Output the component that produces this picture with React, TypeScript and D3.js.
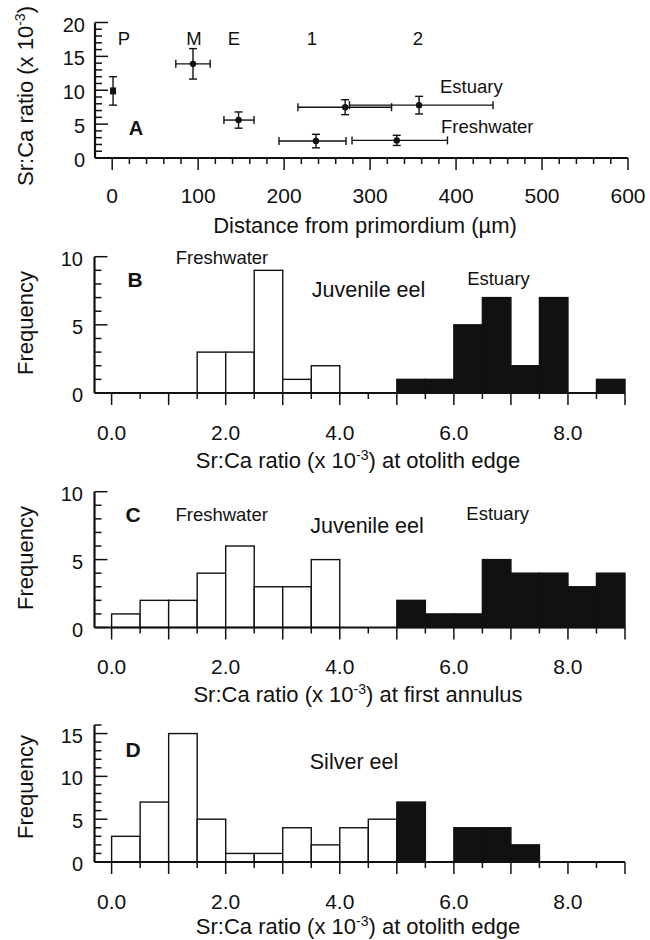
import React, { useRef, useEffect } from 'react';
import * as d3 from 'd3';

// ---- panel A : Sr:Ca along the otolith (mean +/- sd)
const zoneNames = ['P', 'M', 'E', 'Estuary 1', 'Estuary 2', 'Freshwater 1', 'Freshwater 2'];
const zoneDistance = [1, 94, 147, 271, 357, 237, 331];
const zoneDistLo = [null, 74, 130, 216, 276, 194, 279];
const zoneDistHi = [null, 114, 165, 325, 443, 272, 390];
const zoneSrCa = [9.9, 13.9, 5.6, 7.5, 7.8, 2.5, 2.6];
const zoneSrCaErr = [2.1, 2.25, 1.2, 1.1, 1.3, 1.0, 0.75];

const distanceTicks = [0, 100, 200, 300, 400, 500, 600];
const srcaTicks = [0, 5, 10, 15, 20];

// ---- panels B-D : histograms, 0.5 wide bins
const binStart = [0, 0.5, 1, 1.5, 2, 2.5, 3, 3.5, 4, 4.5, 5, 5.5, 6, 6.5, 7, 7.5, 8, 8.5];
const binWidth = 0.5;
const estuaryFrom = 5.0; // bins from here on are filled black

const freqJuvEdge = [0, 0, 0, 3, 3, 9, 1, 2, 0, 0, 1, 1, 5, 7, 2, 7, 0, 1];
const freqJuvAnnulus = [1, 2, 2, 4, 6, 3, 3, 5, 0, 0, 2, 1, 1, 5, 4, 4, 3, 4];
const freqSilverEdge = [3, 7, 15, 5, 1, 1, 4, 2, 4, 5, 7, 0, 4, 4, 2, 0, 0, 0];

const ratioTicks = [0, 2, 4, 6, 8];

const FONT = '"Liberation Sans", Arial, Helvetica, sans-serif';

type Sel = d3.Selection<SVGGElement, unknown, null, undefined>;

// "Sr:Ca ratio (x 10^-3) ..." with a real superscript
function srcaTitle(t: d3.Selection<SVGTextElement, unknown, null, undefined>, tail: string) {
  t.append('tspan').text('Sr:Ca ratio (x 10');
  t.append('tspan').attr('dy', -8).style('font-size', '14px').text('-3');
  t.append('tspan').attr('dy', 8).text(')' + tail);
}

function drawHist(
  g: Sel,
  freq: number[],
  yMax: number,
  yTop: number,
  yBase: number,
  opts: { titleY: number; tail: string; freqY: number }
) {
  const x = d3.scaleLinear().domain([-0.3, 9]).range([94.5, 625]);
  const y = d3.scaleLinear().domain([0, yMax]).range([yBase, yTop]);

  // bars
  g.selectAll('.bar')
    .data(binStart)
    .enter().append('rect')
    .attr('x', d => x(d))
    .attr('width', x(binWidth) - x(0))
    .attr('y', (d, i) => y(freq[i]))
    .attr('height', (d, i) => yBase - y(freq[i]))
    .attr('fill', d => (d >= estuaryFrom ? '#111' : '#fff'))
    .attr('stroke', '#111')
    .attr('stroke-width', 1.4);

  // y axis + ticks (inside)
  g.append('line')
    .attr('x1', 94.5).attr('x2', 94.5)
    .attr('y1', yTop).attr('y2', yBase)
    .attr('stroke', '#111').attr('stroke-width', 2.2);
  g.selectAll('.ytick')
    .data(d3.range(0, yMax + 1))
    .enter().append('line')
    .attr('x1', 94.5)
    .attr('x2', d => 94.5 + (d % 5 === 0 ? 13 : 7))
    .attr('y1', d => y(d)).attr('y2', d => y(d))
    .attr('stroke', '#111').attr('stroke-width', 1.5);
  g.selectAll('.ylab')
    .data(d3.range(0, yMax + 1, 5))
    .enter().append('text')
    .attr('x', 83)
    .attr('y', d => y(d) + 9)
    .attr('text-anchor', 'end')
    .style('font-size', '20px')
    .text(d => d);

  // x axis + ticks (outside)
  g.append('line')
    .attr('x1', 94.5).attr('x2', 625)
    .attr('y1', yBase).attr('y2', yBase)
    .attr('stroke', '#111').attr('stroke-width', 2.2);
  g.selectAll('.xtick')
    .data(d3.range(0, 9.01, 0.5))
    .enter().append('line')
    .attr('x1', d => x(d)).attr('x2', d => x(d))
    .attr('y1', yBase)
    .attr('y2', d => yBase + (d % 1 === 0 ? 12 : 6))
    .attr('stroke', '#111').attr('stroke-width', 1.5);
  g.selectAll('.xlab')
    .data(ratioTicks)
    .enter().append('text')
    .attr('x', d => x(d))
    .attr('y', yBase + 46.5)
    .attr('text-anchor', 'middle')
    .style('font-size', '21px')
    .text(d => d3.format('.1f')(d));

  const t = g.append('text')
    .attr('x', 358).attr('y', opts.titleY)
    .attr('text-anchor', 'middle')
    .style('font-size', '22px');
  srcaTitle(t, opts.tail);

  g.append('text')
    .attr('transform', `translate(33,${opts.freqY}) rotate(-90)`)
    .attr('text-anchor', 'middle')
    .style('font-size', '22px')
    .text('Frequency');
}

function label(g: Sel, text: string, x: number, y: number, size: number, bold = false, anchor = 'middle') {
  g.append('text')
    .attr('x', x).attr('y', y)
    .attr('text-anchor', anchor)
    .style('font-size', size + 'px')
    .style('font-weight', bold ? 'bold' : 'normal')
    .text(text);
}

const App = () => {
  const svgRef = useRef<SVGSVGElement>(null);

  useEffect(() => {
    const svg = d3.select(svgRef.current);
    svg.selectAll('*').remove();
    const root = svg.append('g').style('font-family', FONT).attr('fill', '#111') as unknown as Sel;

    // ================= panel A
    const a = root.append('g');
    const xA = d3.scaleLinear().domain([-20, 600]).range([95, 628]);
    const yA = d3.scaleLinear().domain([0, 20]).range([158, 22.5]);

    a.append('line').attr('x1', 95).attr('x2', 95).attr('y1', yA(20)).attr('y2', yA(0))
      .attr('stroke', '#111').attr('stroke-width', 2.2);
    a.append('line').attr('x1', 95).attr('x2', 628).attr('y1', yA(0)).attr('y2', yA(0))
      .attr('stroke', '#111').attr('stroke-width', 2.2);

    a.selectAll('.ytick')
      .data(d3.range(0, 21))
      .enter().append('line')
      .attr('x1', 95).attr('x2', d => 95 + (d % 5 === 0 ? 13 : 7))
      .attr('y1', d => yA(d)).attr('y2', d => yA(d))
      .attr('stroke', '#111').attr('stroke-width', 1.5);
    a.selectAll('.xtick')
      .data(d3.range(0, 601, 20))
      .enter().append('line')
      .attr('x1', d => xA(d)).attr('x2', d => xA(d))
      .attr('y1', yA(0)).attr('y2', d => yA(0) + (d % 100 === 0 ? 12 : 6))
      .attr('stroke', '#111').attr('stroke-width', 1.5);

    a.selectAll('.ylab')
      .data(srcaTicks)
      .enter().append('text')
      .attr('x', 85).attr('y', d => yA(d) + 9)
      .attr('text-anchor', 'end')
      .style('font-size', '20px')
      .text(d => d);
    a.selectAll('.xlab')
      .data(distanceTicks)
      .enter().append('text')
      .attr('x', d => xA(d)).attr('y', 202.5)
      .attr('text-anchor', 'middle')
      .style('font-size', '21px')
      .text(d => d);

    a.append('text')
      .attr('x', 365).attr('y', 233)
      .attr('text-anchor', 'middle')
      .style('font-size', '22px')
      .text('Distance from primordium (\u00b5m)');

    const yt = a.append('text')
      .attr('transform', 'translate(33,96) rotate(-90)')
      .attr('text-anchor', 'middle')
      .style('font-size', '22px');
    yt.append('tspan').text('Sr:Ca ratio (x 10');
    yt.append('tspan').attr('dy', -8).style('font-size', '14px').text('-3');
    yt.append('tspan').attr('dy', 8).text(')');

    // error bars
    const cap = 4;
    const eb = a.append('g').attr('stroke', '#111').attr('stroke-width', 1.4);
    zoneNames.forEach((n, i) => {
      const cx = xA(zoneDistance[i]);
      const cy = yA(zoneSrCa[i]);
      const lo = zoneDistLo[i];
      const hi = zoneDistHi[i];
      if (lo != null && hi != null) {
        eb.append('line').attr('x1', xA(lo)).attr('x2', xA(hi)).attr('y1', cy).attr('y2', cy);
        eb.append('line').attr('x1', xA(lo)).attr('x2', xA(lo)).attr('y1', cy - cap).attr('y2', cy + cap);
        eb.append('line').attr('x1', xA(hi)).attr('x2', xA(hi)).attr('y1', cy - cap).attr('y2', cy + cap);
      }
      const y1 = yA(zoneSrCa[i] + zoneSrCaErr[i]);
      const y2 = yA(zoneSrCa[i] - zoneSrCaErr[i]);
      eb.append('line').attr('x1', cx).attr('x2', cx).attr('y1', y1).attr('y2', y2);
      eb.append('line').attr('x1', cx - cap).attr('x2', cx + cap).attr('y1', y1).attr('y2', y1);
      eb.append('line').attr('x1', cx - cap).attr('x2', cx + cap).attr('y1', y2).attr('y2', y2);
      if (n === 'P') {
        a.append('rect').attr('x', cx - 3).attr('y', cy - 3.5).attr('width', 6).attr('height', 7).attr('fill', '#111');
      } else {
        a.append('circle').attr('cx', cx).attr('cy', cy).attr('r', 3.2).attr('fill', '#111');
      }
    });

    label(a, 'P', 124, 45, 18.5);
    label(a, 'M', 194, 45, 18.5);
    label(a, 'E', 234, 45, 18.5);
    label(a, '1', 312, 45, 18.5);
    label(a, '2', 418, 45, 18.5);
    label(a, 'A', 136, 135, 20, true);
    label(a, 'Estuary', 440, 93, 18.5, false, 'start');
    label(a, 'Freshwater', 441, 132.5, 18.5, false, 'start');

    // ================= panel B
    const b = root.append('g') as Sel;
    drawHist(b, freqJuvEdge, 10, 256.7, 393, { titleY: 468, tail: ' at otolith edge', freqY: 323 });
    label(b, 'Freshwater', 222, 263.5, 18.5);
    label(b, 'B', 135, 287, 21, true);
    label(b, 'Juvenile eel', 368.5, 297, 21.5);
    label(b, 'Estuary', 498.5, 285, 18.5);

    // ================= panel C
    const c = root.append('g') as Sel;
    drawHist(c, freqJuvAnnulus, 10, 491.7, 627.5, { titleY: 702, tail: ' at first annulus', freqY: 558 });
    label(c, 'C', 133, 522, 21, true);
    label(c, 'Freshwater', 221.7, 521, 18.5);
    label(c, 'Juvenile eel', 367, 532.5, 21.5);
    label(c, 'Estuary', 497.7, 520, 18.5);

    // ================= panel D
    const dd = root.append('g') as Sel;
    drawHist(dd, freqSilverEdge, 16, 725, 862, { titleY: 934, tail: ' at otolith edge', freqY: 787 });
    label(dd, 'D', 133, 757, 21, true);
    label(dd, 'Silver eel', 354, 768.5, 21.5);
  }, []);

  return (
    <svg
      ref={svgRef}
      width={650}
      height={940}
      style={{ position: 'absolute', left: 0, top: 0, background: '#fff' }}
    />
  );
};

export default App;
